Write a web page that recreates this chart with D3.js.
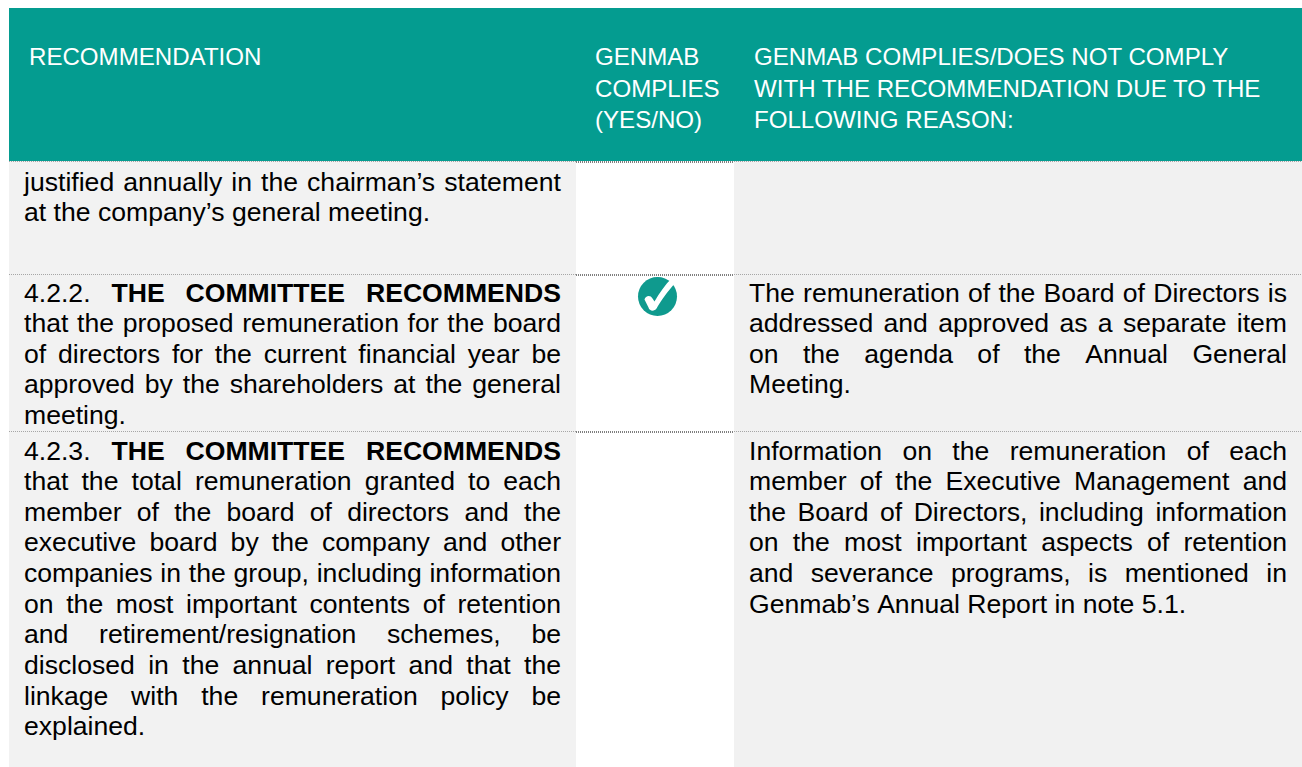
<!DOCTYPE html>
<html>
<head>
<meta charset="utf-8">
<script src="https://cdn.jsdelivr.net/npm/d3@7"></script>
<style>
  html, body { margin: 0; padding: 0; background: #fff; overflow: hidden; }
  svg { display: block; }
  text { font-family: "Liberation Sans", Arial, sans-serif; }
</style>
</head>
<body>
<div id="chart"></div>
<script>
  // Table content
  var headerRecommendation = ["RECOMMENDATION"];
  var headerComplies = ["GENMAB", "COMPLIES", "(YES/NO)"];
  var headerReason = ["GENMAB COMPLIES/DOES NOT COMPLY", "WITH THE RECOMMENDATION DUE TO THE", "FOLLOWING REASON:"];

  var row1Recommendation = [
    "justified annually in the chairman’s statement",
    "at the company’s general meeting."
  ];
  var row2Recommendation = [
    "4.2.2. **THE COMMITTEE RECOMMENDS",
    "that the proposed remuneration for the board",
    "of directors for the current financial year be",
    "approved by the shareholders at the general",
    "meeting."
  ];
  var row3Recommendation = [
    "4.2.3. **THE COMMITTEE RECOMMENDS",
    "that the total remuneration granted to each",
    "member of the board of directors and the",
    "executive board by the company and other",
    "companies in the group, including information",
    "on the most important contents of retention",
    "and retirement/resignation schemes, be",
    "disclosed in the annual report and that the",
    "linkage with the remuneration policy be",
    "explained."
  ];
  var row2Reason = [
    "The remuneration of the Board of Directors is",
    "addressed and approved as a separate item",
    "on the agenda of the Annual General",
    "Meeting."
  ];
  var row3Reason = [
    "Information on the remuneration of each",
    "member of the Executive Management and",
    "the Board of Directors, including information",
    "on the most important aspects of retention",
    "and severance programs, is mentioned in",
    "Genmab’s Annual Report in note 5.1."
  ];

  var width = 1302, height = 767;
  var bodySize = 26.6, headSize = 24.1;
  var lineStep = 30.65, headStep = 31.5;

  var svg = d3.select("#chart").append("svg")
    .attr("width", width)
    .attr("height", height);

  // Column and row edges go through scales so the cells are built by index
  var colX = d3.scaleOrdinal().domain([0, 1, 2, 3]).range([9, 576, 734, 1302]);
  var rowY = d3.scaleOrdinal().domain([0, 1, 2, 3, 4]).range([8, 161, 274, 431, 767]);

  // Cell backgrounds
  var cells = [
    { x0: 0, x1: 3, y0: 0, y1: 1, fill: "#049c90" },
    { x0: 0, x1: 1, y0: 1, y1: 4, fill: "#f2f2f2" },
    { x0: 2, x1: 3, y0: 1, y1: 4, fill: "#f1f1f1" }
  ];
  svg.selectAll("rect.cell")
    .data(cells)
    .enter()
    .append("rect")
    .attr("class", "cell")
    .attr("x", function (d) { return colX(d.x0); })
    .attr("y", function (d) { return rowY(d.y0); })
    .attr("width", function (d) { return colX(d.x1) - colX(d.x0); })
    .attr("height", function (d) { return rowY(d.y1) - rowY(d.y0); })
    .attr("fill", function (d) { return d.fill; });

  // Dotted row separators, heavier in the middle column
  [1, 2, 3].forEach(function (r) {
    [[0, 1, "#a6a6a6"], [1, 2, "#7f7f7f"], [2, 3, "#a6a6a6"]].forEach(function (s) {
      var mid = s[0] == 1;
      svg.append("line")
        .attr("x1", colX(s[0]))
        .attr("x2", colX(s[1]))
        .attr("y1", rowY(r) + (mid ? 1 : 0.5))
        .attr("y2", rowY(r) + (mid ? 1 : 0.5))
        .attr("stroke", s[2])
        .attr("stroke-width", mid ? 2 : 1)
        .attr("stroke-dasharray", "1,1");
    });
  });

  // Header text
  function drawHeader(lines, x) {
    var y = d3.scaleLinear().domain([0, 1]).range([65, 65 + headStep]);
    svg.selectAll(null)
      .data(lines)
      .enter()
      .append("text")
      .attr("x", x)
      .attr("y", function (d, i) { return y(i); })
      .attr("font-size", headSize)
      .attr("fill", "#fff")
      .text(function (d) { return d; });
  }
  drawHeader(headerRecommendation, 29);
  drawHeader(headerComplies, 595);
  drawHeader(headerReason, 754);

  // Natural width of one word
  function wordWidth(word, bold) {
    var t = svg.append("text")
      .attr("font-size", bodySize)
      .attr("font-weight", bold ? "bold" : "normal")
      .attr("xml:space", "preserve")
      .text(word);
    var w = t.node().getComputedTextLength();
    t.remove();
    return w;
  }

  // Justified paragraph, last line is left at natural spacing
  function drawParagraph(lines, left, right, firstBaseline) {
    var y = d3.scaleLinear().domain([0, 1]).range([firstBaseline, firstBaseline + lineStep]);
    var space = wordWidth("a a", false) - wordWidth("aa", false);
    lines.forEach(function (line, i) {
      var boldFrom = line.indexOf("**");
      var words = line.replace("**", "").split(" ").map(function (w, k) {
        var bold = boldFrom >= 0 && k > 0;
        return { text: w, bold: bold, w: wordWidth(w, bold) };
      });
      var total = d3.sum(words, function (d) { return d.w; });
      var gap = space;
      if (i < lines.length - 1 && words.length > 1) {
        gap = (right - left - total) / (words.length - 1);
      }
      var x = left;
      words.forEach(function (d) {
        svg.append("text")
          .attr("x", x)
          .attr("y", y(i))
          .attr("font-size", bodySize)
          .attr("font-weight", d.bold ? "bold" : "normal")
          .attr("fill", "#000")
          .text(d.text);
        x += d.w + gap;
      });
    });
  }

  drawParagraph(row1Recommendation, 24, 561, 190.5);
  drawParagraph(row2Recommendation, 24, 561, 301.5);
  drawParagraph(row3Recommendation, 24, 561, 459.5);
  drawParagraph(row2Reason, 749, 1287, 301.5);
  drawParagraph(row3Reason, 749, 1287, 459.5);

  // Tick badge in the compliance column
  var badge = svg.append("g")
    .attr("transform", "translate(657.5,296.5)");
  badge.append("ellipse")
    .attr("rx", 19.5)
    .attr("ry", 19.5)
    .attr("fill", "#0f9a8e");
  badge.append("path")
    .attr("d", "M-13,3 C-12,-1 -7,-2 -5,2 L-3,5 C2,-4 8,-12 14,-18 L18,-14 C10,-5 3,5 -1,12 C-3,15 -8,15 -9,11 Z")
    .attr("fill", "#fff");
</script>
</body>
</html>
